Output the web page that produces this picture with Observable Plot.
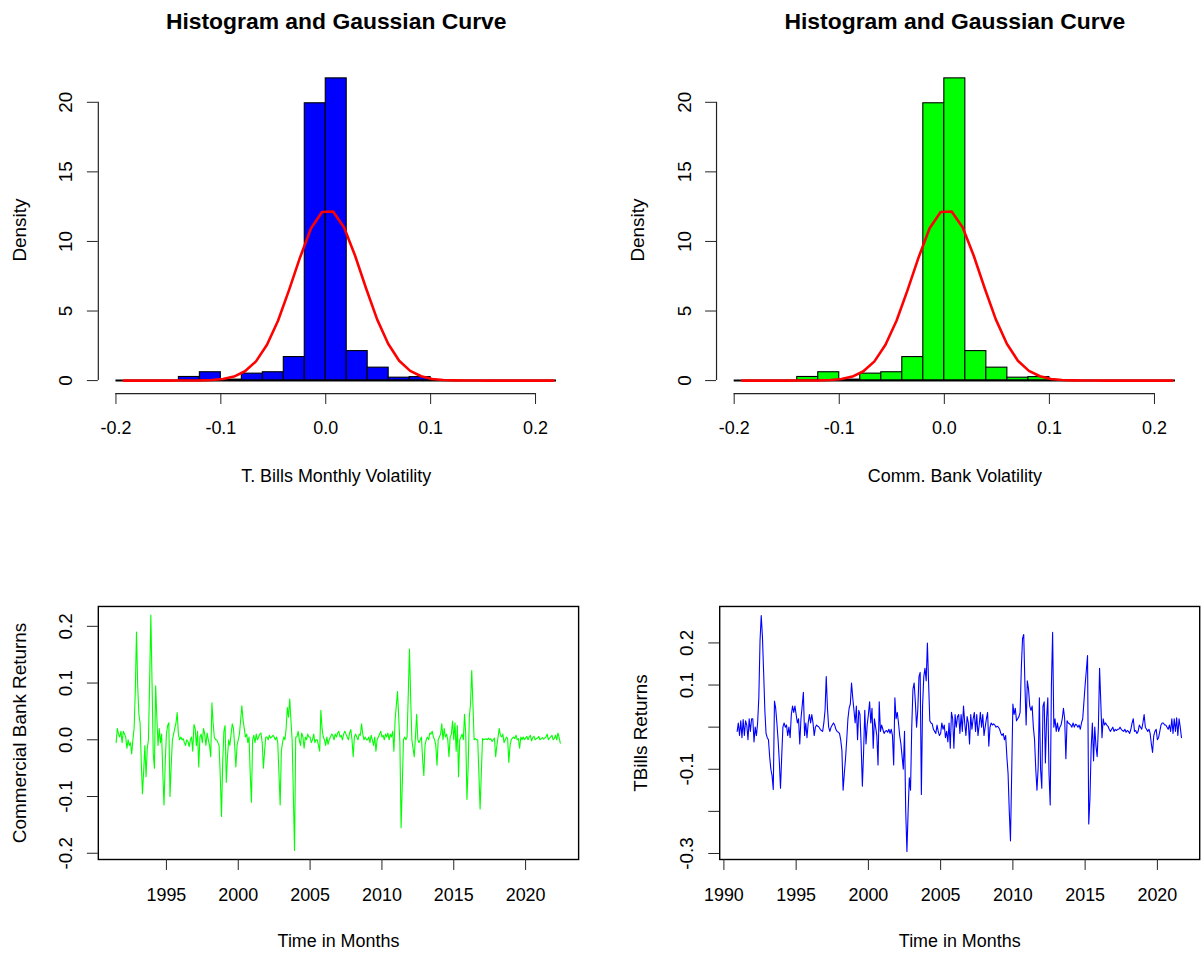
<!DOCTYPE html>
<html><head><meta charset="utf-8">
<script src="https://cdn.jsdelivr.net/npm/d3@7"></script>
<script src="https://cdn.jsdelivr.net/npm/@observablehq/plot@0.6"></script>
<style>
html,body{margin:0;padding:0;background:#fff;width:1204px;height:958px;overflow:hidden;}
#wrap{position:relative;width:1204px;height:958px;overflow:hidden;}
#wrap svg{position:absolute;left:0;top:0;}
</style></head><body><div id="wrap"></div>
<script>
// ---------- DATA ----------
const histTitle = "Histogram and Gaussian Curve";
// histogram bin edges (width 0.02)
const binEdges = [-0.2,-0.18,-0.16,-0.14,-0.12,-0.10,-0.08,-0.06,-0.04,-0.02,0,0.02,0.04,0.06,0.08,0.10,0.12,0.14,0.16,0.18,0.20,0.22];
// densities per bin, T. Bills panel
const tbillDensity = [0,0,0,0.26,0.6,0.07,0.5,0.6,1.69,19.93,21.72,2.12,0.93,0.21,0.25,0,0,0,0,0,0];
// densities per bin, Comm. Bank panel
const bankDensity  = [0,0,0,0.26,0.6,0.07,0.5,0.6,1.69,19.93,21.72,2.12,0.93,0.21,0.25,0,0,0,0,0,0];
// fitted Gaussian curve points
const curveX = [-0.1925,-0.182,-0.1715,-0.161,-0.1505,-0.14,-0.1295,-0.119,-0.1085,-0.098,-0.0875,-0.077,-0.0665,-0.056,-0.0455,-0.035,-0.0245,-0.014,-0.0035,0.007,0.0175,0.028,0.0385,0.049,0.0595,0.07,0.0805,0.091,0.1015,0.112,0.1225,0.133,0.1435,0.154,0.1645,0.175,0.1855,0.196,0.2065,0.217];
const curveY = [0,0,0,0,0,0.001,0.004,0.013,0.04,0.12,0.29,0.67,1.38,2.57,4.3,6.5,8.85,10.95,12.12,12.15,11.0,8.97,6.62,4.4,2.65,1.43,0.7,0.31,0.12,0.04,0.014,0.004,0.001,0,0,0,0,0,0,0];
const histXTicks = [-0.2,-0.1,0,0.1,0.2];
const histYTicks = [0,5,10,15,20];

// Commercial bank monthly returns, from Jul 1991 to Jun 2022
const bankStart = 1991.5;
const bankReturns = [
 -0.005,0.02,0.01,0.005,0.015,-0.005,
 0.015,0.01,0.005,-0.015,0.0,-0.01,-0.005,-0.025,0.0,0.02,0.085,0.19,
 0.095,0.045,0.03,-0.04,-0.095,-0.055,-0.01,-0.065,-0.015,0.0,0.105,0.22,
 0.1,-0.025,-0.05,0.095,0.04,-0.01,0.02,-0.005,0.01,-0.06,-0.115,-0.04,
 0.01,0.025,0.03,-0.1,-0.045,0.0,0.01,0.02,0.03,0.048,0.01,0.0,
 0.005,0.0,0.002,-0.005,-0.01,0.0,-0.003,-0.012,0.0,0.005,-0.02,0.027,
 0.02,-0.01,0.015,-0.048,0.005,0.01,-0.005,0.02,0.01,-0.01,0.012,0.0,
 -0.01,-0.03,0.065,0.03,0.005,0.0,0.0,-0.005,-0.01,-0.065,-0.135,-0.04,
 0.015,0.025,-0.075,-0.03,0.0,-0.01,0.01,0.028,0.02,-0.01,-0.048,-0.01,
 0.0,0.01,0.035,0.06,0.035,0.02,0.005,0.01,-0.005,0.005,-0.06,-0.11,
 0.0,0.008,-0.005,0.01,0.0,0.005,0.01,0.012,-0.005,-0.05,-0.02,0.005,
 0.005,0.0,0.008,0.003,0.005,0.008,0.005,0.0,0.005,-0.005,-0.06,-0.115,
 -0.02,-0.005,0.005,0.0,0.02,0.057,0.04,0.072,0.035,0.0,-0.095,-0.195,
 0.005,0.005,0.015,0.0,-0.01,0.012,0.005,-0.015,0.005,0.0,0.01,0.005,
 0.005,-0.005,0.0,0.01,-0.005,0.0,0.0,-0.01,-0.02,0.052,0.02,0.005,
 0.0,-0.01,0.005,-0.008,0.0,0.005,0.01,0.008,0.0,0.01,0.005,0.012,
 0.015,0.005,0.008,0.0,0.01,0.015,0.01,0.005,0.0,0.012,0.018,0.0,
 -0.03,0.005,0.01,0.005,0.0,0.01,0.008,0.028,0.01,0.0,0.005,0.0,
 0.0,0.005,-0.005,0.008,0.0,-0.01,0.005,-0.02,0.0,0.005,0.01,0.015,
 0.005,0.008,0.0,0.01,0.005,0.012,0.0,0.01,0.005,0.015,-0.02,0.035,
 0.06,0.085,0.04,-0.005,-0.155,-0.08,0.0,0.005,0.0,0.005,0.08,0.16,
 0.075,0.0,-0.015,-0.03,0.005,0.045,0.0,-0.005,0.0,0.005,-0.035,-0.063,
 -0.01,0.0,0.005,0.0,0.012,0.01,0.015,0.005,0.0,-0.01,-0.045,0.0,
 0.005,0.01,0.028,0.0,0.02,0.005,0.01,0.0,-0.03,0.005,0.01,0.033,
 0.0,0.03,-0.02,0.025,-0.065,0.0,0.005,0.01,0.0,0.045,0.01,-0.105,
 -0.05,0.04,0.063,0.122,0.063,0.0,0.002,0.0,0.0,-0.06,-0.122,-0.06,
 0.002,0.0,0.001,0.002,0.0,0.003,0.0,0.002,-0.003,0.0,0.003,-0.03,
 -0.01,0.005,0.02,0.008,0.005,0.01,-0.005,0.0,0.005,0.002,-0.04,-0.01,
 0.0,0.003,0.005,0.002,0.008,0.0,0.002,-0.015,0.005,0.0,0.005,0.0,
 0.003,0.006,0.0,0.005,0.008,-0.002,0.004,0.006,0.0,0.002,0.003,0.006,
 0.0,0.002,0.004,0.001,0.003,0.005,0.01,0.0,0.003,0.005,0.008,0.0,
 0.002,0.008,0.0,0.012,0.004,-0.006
];

// T-bill monthly returns, from Dec 1990 to Sep 2021
const tbillStart = 1990 + 11/12;
const tbillReturns = [
 -0.01,
 0.01,-0.02,0.015,-0.025,0.018,-0.02,0.015,0.005,-0.03,0.02,-0.01,0.02,
 0.02,-0.035,0.0,-0.02,0.01,0.07,0.205,0.265,0.215,0.13,0.04,-0.015,
 -0.025,-0.03,-0.07,-0.1,-0.115,-0.148,0.062,0.045,0.01,-0.03,-0.08,-0.145,
 -0.07,0.0,0.01,0.0,0.005,-0.02,0.0,-0.025,0.03,0.05,0.035,0.05,
 0.03,0.01,0.02,-0.04,0.02,0.05,0.083,-0.02,0.01,-0.025,0.01,0.03,
 0.01,0.03,0.01,-0.02,0.0,0.005,0.002,0.0,-0.005,-0.008,-0.01,0.01,
 0.04,0.12,0.045,0.0,-0.01,0.0,0.005,0.01,0.005,-0.005,-0.01,-0.012,
 -0.015,-0.03,-0.055,-0.15,-0.11,-0.075,-0.03,0.02,0.045,0.055,0.105,0.07,
 0.04,0.01,0.05,-0.03,0.04,0.03,-0.045,-0.14,-0.06,0.04,-0.04,0.005,
 0.03,0.06,0.01,0.045,-0.05,0.02,0.0,-0.02,-0.09,0.06,-0.01,0.005,
 -0.005,-0.015,-0.01,-0.008,-0.012,-0.005,-0.015,-0.005,-0.02,-0.09,0.07,0.02,
 0.035,0.01,-0.02,-0.04,-0.07,-0.1,-0.01,-0.2,-0.295,-0.2,-0.12,-0.15,
 0.0,0.09,0.105,0.06,0.0,0.04,0.12,0.13,-0.16,0.05,0.12,0.14,
 0.11,0.2,0.105,0.015,0.01,0.008,-0.005,-0.01,-0.015,0.005,-0.01,-0.02,
 -0.015,0.01,-0.005,0.005,-0.025,-0.01,-0.035,0.01,-0.05,0.035,0.02,-0.05,
 0.03,0.0,0.025,0.03,-0.015,0.03,-0.01,0.05,0.01,-0.02,0.025,0.01,
 -0.04,0.03,-0.005,0.02,0.035,-0.01,0.03,-0.02,0.005,0.035,0.0,0.03,
 -0.02,0.0,0.02,0.035,-0.045,0.0,0.01,0.005,0.008,0.005,0.0,0.002,
 0.0,-0.005,-0.015,-0.02,-0.015,-0.03,-0.02,-0.07,-0.11,-0.2,-0.27,-0.11,
 0.055,0.03,0.045,0.015,0.02,0.025,0.035,0.14,0.21,0.22,0.1,0.005,
 0.11,0.09,0.05,0.04,0.05,0.0,-0.03,-0.1,-0.15,-0.095,0.07,-0.1,
 -0.145,0.05,0.06,-0.085,0.02,0.07,-0.11,-0.185,0.1,0.225,0.0,0.02,
 -0.01,0.01,-0.01,0.0,0.005,0.02,0.045,0.02,-0.075,0.015,0.01,0.008,
 0.005,0.0,0.01,0.0,0.007,0.005,0.0,0.005,-0.005,0.01,0.02,0.06,
 0.1,0.135,0.17,-0.23,-0.17,-0.05,0.01,-0.08,0.0,-0.045,-0.07,0.0,
 0.14,0.06,-0.025,0.02,0.005,0.01,0.005,0.002,-0.005,-0.01,-0.005,0.0,
 -0.01,-0.005,-0.008,-0.005,-0.005,0.0,-0.005,-0.008,-0.01,-0.005,-0.012,-0.008,
 -0.01,-0.015,-0.005,0.01,0.02,-0.01,-0.008,-0.015,-0.01,0.005,0.0,-0.005,
 0.01,0.03,0.0,-0.005,-0.01,-0.005,-0.015,-0.04,-0.06,-0.02,-0.01,-0.005,
 -0.03,-0.025,-0.01,0.005,0.01,0.01,0.005,0.005,0.0,-0.005,0.005,-0.01,
 0.02,-0.015,0.02,-0.01,0.022,-0.02,0.02,0.0,-0.025
];

const bankYearTicks = [1995,2000,2005,2010,2015,2020];
const tbillYearTicks = [1990,1995,2000,2005,2010,2015,2020];
const bankYTicks = [-0.2,-0.1,0,0.1,0.2];
const tbillYTicks = [-0.3,-0.2,-0.1,0,0.1,0.2];
const tbillYTickLabels = ["-0.3","","-0.1","","0.1","0.2"];

// ---------- DRAWING ----------
const W = 1210, H = 958;
const FONT = "'Liberation Sans', Arial, Helvetica, sans-serif";
const wrap = document.getElementById("wrap");
const baseStyle = {background: "transparent", fontFamily: FONT, fontSize: "18px", color: "black", overflow: "visible"};
const VFS = 19; // rotated texts

function histPanel({density, fill, xLabel, box}) {
  const bins = density.map((d, i) => ({x1: binEdges[i], x2: binEdges[i + 1], y: d}));
  const curve = curveX.map((x, i) => ({x, y: curveY[i]}));
  const xDom = [-0.2168, 0.2368], yDom = [-0.93, 22.568];
  return Plot.plot({
    width: W, height: H,
    marginLeft: box.left, marginRight: W - box.right, marginTop: box.top, marginBottom: H - box.bottom,
    x: {domain: xDom}, y: {domain: yDom},
    style: baseStyle,
    marks: [
      Plot.rect(bins, {x1: "x1", x2: "x2", y1: 0, y2: "y", fill, stroke: "black", strokeWidth: 1.1}),
      Plot.ruleY([0], {x1: binEdges[0], x2: binEdges[binEdges.length - 1], stroke: "black", strokeWidth: 2}),
      Plot.line(curve, {x: "x", y: "y", stroke: "red", strokeWidth: 2.6}),
      Plot.ruleY([yDom[0]], {x1: histXTicks[0], x2: histXTicks[histXTicks.length - 1], stroke: "#222", strokeWidth: 1.2}),
      Plot.axisX({ticks: histXTicks, tickSize: 11, tickPadding: 17, tickFormat: d => d.toFixed(1), label: null, stroke: "#222"}),
      Plot.ruleX([xDom[0]], {y1: histYTicks[0], y2: histYTicks[histYTicks.length - 1], stroke: "#222", strokeWidth: 1.2}),
      Plot.axisY({ticks: histYTicks, tickSize: 11, tickPadding: 15, tickRotate: -90, fontSize: VFS, tickFormat: d => String(d), label: null, stroke: "#222"}),
      Plot.text([histTitle], {text: d => d, frameAnchor: "top", dy: -38, lineAnchor: "bottom", textAnchor: "middle", fontWeight: "bold", fontSize: 23}),
      Plot.text([xLabel], {text: d => d, frameAnchor: "bottom", dy: 88.5, lineAnchor: "bottom", textAnchor: "middle"}),
      Plot.text(["Density"], {text: d => d, frameAnchor: "left", dx: -73, rotate: -90, lineAnchor: "bottom", textAnchor: "middle", fontSize: VFS})
    ]
  });
}

function tsPanel({values, start, color, yLabel, xTicks, yTicks, yTickLabels, xDom, yDom, box}) {
  const series = values.map((v, i) => ({t: start + i / 12, v}));
  return Plot.plot({
    width: W, height: H,
    marginLeft: box.left, marginRight: W - box.right, marginTop: box.top, marginBottom: H - box.bottom,
    x: {domain: xDom}, y: {domain: yDom},
    style: baseStyle,
    marks: [
      Plot.line(series, {x: "t", y: "v", stroke: color, strokeWidth: 1.1}),
      Plot.frame({stroke: "black", strokeWidth: 1.4}),
      Plot.axisX({ticks: xTicks, tickSize: 11, tickPadding: 17.5, tickFormat: d => String(d), label: null, stroke: "#222"}),
      Plot.axisY({ticks: yTicks, tickSize: 11, tickPadding: 15.5, tickRotate: -90, fontSize: VFS,
        tickFormat: (d) => yTickLabels ? yTickLabels[yTicks.indexOf(d)] : d.toFixed(1), label: null, stroke: "#222"}),
      Plot.text(["Time in Months"], {text: d => d, frameAnchor: "bottom", dy: 88.4, lineAnchor: "bottom", textAnchor: "middle"}),
      Plot.text([yLabel], {text: d => d, frameAnchor: "left", dx: -73, rotate: -90, lineAnchor: "bottom", textAnchor: "middle", fontSize: VFS})
    ]
  });
}

wrap.appendChild(histPanel({density: tbillDensity, fill: "#0000ff", xLabel: "T. Bills Monthly Volatility",
  box: {left: 98.3, right: 576.5, top: 66.4, bottom: 395}}));
wrap.appendChild(histPanel({density: bankDensity, fill: "#00ff00", xLabel: "Comm. Bank Volatility",
  box: {left: 719.6, right: 1198.6, top: 66.4, bottom: 395}}));
wrap.appendChild(tsPanel({values: bankReturns, start: bankStart, color: "#00ff00", yLabel: "Commercial Bank Returns",
  xTicks: bankYearTicks, yTicks: bankYTicks, yTickLabels: null,
  xDom: [1990.26, 2023.69], yDom: [-0.211, 0.235],
  box: {left: 98.3, right: 581, top: 609, bottom: 863.3}}));
wrap.appendChild(tsPanel({values: tbillReturns, start: tbillStart, color: "#0000ff", yLabel: "TBills Returns",
  xTicks: tbillYearTicks, yTicks: tbillYTicks, yTickLabels: tbillYTickLabels,
  xDom: [1989.71, 2022.93], yDom: [-0.3143, 0.2866],
  box: {left: 722.8, right: 1205.2, top: 609, bottom: 863.3}}));
</script></body></html>
